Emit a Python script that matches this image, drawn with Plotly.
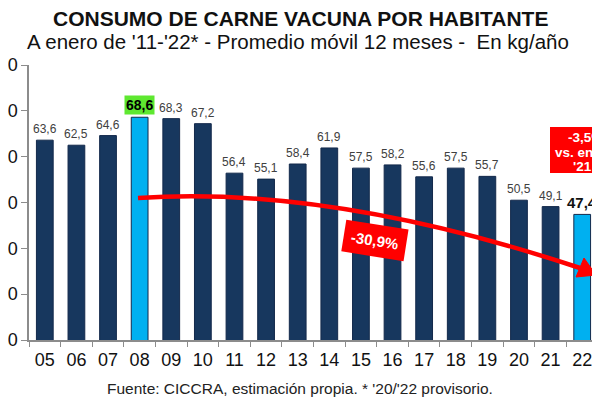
import plotly.graph_objects as go

years = ["05", "06", "07", "08", "09", "10", "11", "12", "13", "14", "15", "16", "17", "18", "19", "20", "21", "22"]
consumo = [63.6, 62.5, 64.6, 68.6, 68.3, 67.2, 56.4, 55.1, 58.4, 61.9, 57.5, 58.2, 55.6, 57.5, 55.7, 50.5, 49.1, 47.4]
highlight = ["08", "22"]
y_ticks = [20, 30, 40, 50, 60, 70, 80]

DARK = "#17375E"
LIGHT = "#00B0F0"
RED = "#FF0000"
FONT = "Liberation Sans, Arial, sans-serif"

W, H = 600, 400
OFF = 8  # page body margin offset
# plot area in window pixels: x 29..598, y 65..340
PX0, PX1, PY0, PY1 = 29, 598, 65, 340
ML, MR = PX0 - OFF, W - (PX1 - OFF)
MT, MB = PY0 - OFF, H - (PY1 - OFF)
PW, PH = PX1 - PX0, PY1 - PY0


def px(x, y):
    """window pixel -> paper coordinates"""
    return (x - PX0) / PW, (PY1 - y) / PH


colors = [LIGHT if y in highlight else DARK for y in years]

fig = go.Figure()
fig.add_trace(go.Bar(
    x=years, y=consumo,
    marker=dict(color=colors, line=dict(color="#13294B", width=1)),
    hoverinfo="x+y",
))

annotations = []
for i, (yr, v) in enumerate(zip(years, consumo)):
    lbl = f"{v:.1f}".replace(".", ",")
    if yr == "08":
        annotations.append(dict(x=i, y=v, xref="x", yref="y", text=f"<b>{lbl}</b>", showarrow=False,
                                yanchor="bottom", yshift=2, bgcolor="#5EE830", borderpad=1,
                                font=dict(family=FONT, size=14, color="#000000")))
    elif yr == "22":
        annotations.append(dict(x=i, y=v, xref="x", yref="y", text=f"<b>{lbl}</b>", showarrow=False,
                                yanchor="bottom", yshift=1,
                                font=dict(family=FONT, size=15, color="#111111")))
    else:
        annotations.append(dict(x=i, y=v, xref="x", yref="y", text=lbl, showarrow=False,
                                yanchor="bottom", yshift=2,
                                font=dict(family=FONT, size=12, color="#404040")))


def text_at(x, y, text, size, color="#111111"):
    ax, ay = px(x, y)
    annotations.append(dict(x=ax, y=ay, xref="paper", yref="paper", xanchor="center", yanchor="middle",
                            text=text, showarrow=False, font=dict(family=FONT, size=size, color=color)))


# Titles and source
text_at(300, 18, "<b>CONSUMO DE CARNE VACUNA POR HABITANTE</b>", 21)
text_at(298, 42, "A enero de '11-'22* - Promedio móvil 12 meses -  En kg/año", 20.5)
text_at(300, 388, "Fuente: CICCRA, estimación propia. * '20/'22 provisorio.", 15.5, "#222222")

# -30,9% label
bx, by = px(375, 240)
annotations.append(dict(x=bx, y=by, xref="paper", yref="paper", xanchor="center", yanchor="middle",
                        text="<b>-30,9%</b>", showarrow=False,
                        textangle=9, bgcolor=RED, borderpad=7,
                        font=dict(family=FONT, size=15, color="white")))

# -3,5% label: red box + three lines of text
r0 = px(550, 127)
r1 = px(620, 173)
text_at(585, 137, "<b>-3,5%</b>", 13.5, "white")
text_at(584, 152, "<b>vs. enero</b>", 13.5, "white")
text_at(582, 166, "<b>'21</b>", 13.5, "white")

# Curved arrow (quadratic Bezier in paper coords)
P0, P1, P2 = px(138, 198), px(330, 185), px(580, 268)
path = f"M {P0[0]},{P0[1]} Q {P1[0]},{P1[1]} {P2[0]},{P2[1]}"
tip = px(596, 275)
c1 = px(576, 277)
c2 = px(584, 258)
head = f"M {tip[0]},{tip[1]} L {c1[0]},{c1[1]} L {c2[0]},{c2[1]} Z"
shapes = [
    dict(type="path", xref="paper", yref="paper", path=path, line=dict(color=RED, width=4.5)),
    dict(type="path", xref="paper", yref="paper", path=head, line=dict(color=RED, width=1), fillcolor=RED),
    dict(type="rect", xref="paper", yref="paper", x0=r0[0], y0=r0[1], x1=r1[0], y1=r1[1],
         fillcolor=RED, line=dict(width=0), layer="above"),
]

fig.update_layout(
    width=W, height=H,
    margin=dict(l=ML, r=MR, t=MT, b=MB, autoexpand=False),
    paper_bgcolor="white", plot_bgcolor="white",
    bargap=0.47,
    showlegend=False,
    annotations=annotations,
    shapes=shapes,
    xaxis=dict(
        type="category", range=[-0.5, len(years) - 0.5],
        showline=True, linecolor="#8C8C8C", linewidth=1.5,
        ticks="outside", tickson="boundaries", ticklen=5, tickcolor="#8C8C8C",
        tickfont=dict(family=FONT, size=18, color="#111111"),
        ticklabelstandoff=3,
        showgrid=False, zeroline=False,
    ),
    yaxis=dict(
        range=[20, 80], tickvals=y_ticks,
        showline=True, linecolor="#8C8C8C", linewidth=1.5,
        ticks="outside", ticklen=6, tickcolor="#8C8C8C",
        tickfont=dict(family=FONT, size=18, color="#111111"),
        ticklabelstandoff=0,
        showgrid=False, zeroline=False, automargin=False,
    ),
)

fig.write_html("out.html")
